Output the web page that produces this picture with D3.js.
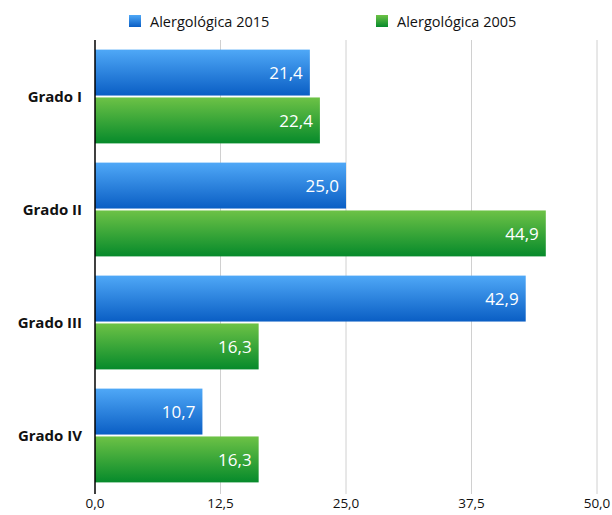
<!DOCTYPE html>
<html><head><meta charset="utf-8">
<script src="https://cdn.jsdelivr.net/npm/d3@7"></script>
<style>body{margin:0;background:#fff}svg{display:block}</style>
</head><body>
<script>
const categories = ["Grado I","Grado II","Grado III","Grado IV"];
const seriesNames = ["Alergológica 2015","Alergológica 2005"];
const values2015 = [21.4, 25.0, 42.9, 10.7];
const values2005 = [22.4, 44.9, 16.3, 16.3];
const tickValues = [0, 12.5, 25, 37.5, 50];

const W = 612, H = 515;
const margin = {left: 95, right: 15, top: 40, bottom: 23};
const svg = d3.select("body").append("svg").attr("width", W).attr("height", H);
const font = "'Open Sans', 'Noto Sans', sans-serif";

const defs = svg.append("defs");
const grads = [["gBlue","#4fa8f7","#0a5ec4"],["gGreen","#6dc246","#068a2b"]];
grads.forEach(([id,a,b]) => {
  const g = defs.append("linearGradient").attr("id", id).attr("x1",0).attr("y1",0).attr("x2",0).attr("y2",1);
  g.append("stop").attr("offset","0%").attr("stop-color",a);
  g.append("stop").attr("offset","100%").attr("stop-color",b);
});
const fills = ["url(#gBlue)","url(#gGreen)"];

const x = d3.scaleLinear().domain([0,50]).range([margin.left, W - margin.right]);
const y0 = d3.scaleBand().domain(categories).range([margin.top, H - margin.bottom]).paddingInner(0.17).paddingOuter(0.085);
const y1 = d3.scaleBand().domain([0,1]).range([0, y0.bandwidth()]).paddingInner(0.04);

// gridlines
svg.append("g").selectAll("line").data(tickValues.slice(1)).join("line")
  .attr("x1", d => x(d)).attr("x2", d => x(d))
  .attr("y1", margin.top).attr("y2", H - margin.bottom + 2)
  .attr("stroke", "#d0d0d0").attr("stroke-width", 1);

// bars
const data = categories.map((c,i) => ({c, v:[values2015[i], values2005[i]]}));
const groups = svg.append("g").selectAll("g").data(data).join("g")
  .attr("transform", d => `translate(0,${y0(d.c)})`);
groups.selectAll("rect").data(d => d.v.map((v,k)=>({v,k}))).join("rect")
  .attr("x", x(0)).attr("y", d => y1(d.k))
  .attr("width", d => x(d.v) - x(0)).attr("height", y1.bandwidth())
  .attr("fill", d => fills[d.k]);
groups.selectAll("text").data(d => d.v.map((v,k)=>({v,k}))).join("text")
  .attr("x", d => x(d.v) - 7).attr("y", d => y1(d.k) + y1.bandwidth()/2)
  .attr("dy", "0.36em").attr("text-anchor", "end")
  .attr("fill", "#fff").attr("font-family", font).attr("font-size", 17)
  .text(d => d3.format(".1f")(d.v).replace(".", ","));

// y axis line
svg.append("line").attr("x1", x(0)).attr("x2", x(0))
  .attr("y1", margin.top).attr("y2", H - margin.bottom + 2)
  .attr("stroke", "#000").attr("stroke-width", 1.5);

// category labels
svg.append("g").selectAll("text").data(categories).join("text")
  .attr("x", 82).attr("y", d => y0(d) + y0.bandwidth()/2)
  .attr("dy", "0.36em").attr("text-anchor", "end")
  .attr("font-family", font).attr("font-weight", "bold").attr("font-size", 15)
  .attr("fill", "#111").text(d => d);

// x axis tick labels
svg.append("g").selectAll("text").data(tickValues).join("text")
  .attr("x", d => x(d)).attr("y", 508).attr("text-anchor", "middle")
  .attr("font-family", font).attr("font-size", 13.5).attr("fill", "#111")
  .text(d => d3.format(".1f")(d).replace(".", ","));

// legend
const legX = [129, 376];
seriesNames.forEach((n,k) => {
  const g = svg.append("g").attr("transform", `translate(${legX[k]},15)`);
  g.append("rect").attr("width", 12).attr("height", 12).attr("fill", fills[k]);
  g.append("text").attr("x", 21).attr("y", 11.5).attr("font-family", font)
    .attr("font-size", 14.5).attr("fill", "#111").text(n);
});
</script>
</body></html>
